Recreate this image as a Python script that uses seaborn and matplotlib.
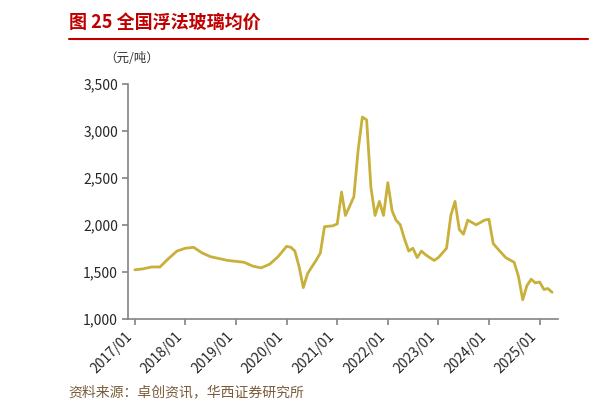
import matplotlib
matplotlib.use("Agg")
import matplotlib.pyplot as plt
import matplotlib.dates as mdates
import seaborn as sns
import pandas as pd

dates = ["2017-01","2017-03","2017-05","2017-07","2017-09","2017-11","2018-01","2018-03","2018-05","2018-07","2018-09","2018-11",
         "2019-01","2019-03","2019-05","2019-07","2019-09","2019-11","2020-01","2020-02","2020-03","2020-04","2020-05","2020-06","2020-07",
         "2020-08","2020-09","2020-10","2020-12","2021-01","2021-02","2021-03","2021-04","2021-05","2021-06","2021-07","2021-08","2021-09",
         "2021-10","2021-11","2021-12","2022-01","2022-02","2022-03","2022-04","2022-05","2022-06","2022-07","2022-08","2022-09","2022-10","2022-12",
         "2023-01","2023-03","2023-04","2023-05","2023-06","2023-07","2023-08","2023-10","2023-12","2024-01","2024-02","2024-03",
         "2024-05","2024-07","2024-08","2024-09","2024-10","2024-11","2024-12","2025-01","2025-02","2025-03","2025-04"]
prices = [1520,1530,1550,1550,1640,1720,1750,1760,1700,1660,1640,1620,
          1610,1600,1560,1540,1580,1660,1770,1760,1720,1550,1330,1480,1550,
          1620,1700,1980,1990,2010,2350,2100,2200,2300,2800,3150,3120,2400,
          2100,2250,2100,2450,2150,2050,2000,1850,1720,1750,1650,1720,1680,1620,
          1650,1750,2100,2250,1950,1900,2050,2000,2050,2060,1800,1750,
          1650,1600,1450,1200,1350,1420,1380,1390,1310,1320,1280]

df = pd.DataFrame({"date": pd.to_datetime(dates), "price": prices})

sns.set_theme(style="white")
plt.rcParams['font.family'] = ['Noto Sans CJK SC', 'DejaVu Sans']

fig = plt.figure(figsize=(5.97, 4.11), dpi=100)
ax = fig.add_axes([0.215, 0.225, 0.72, 0.57])
sns.lineplot(data=df, x="date", y="price", ax=ax, color="#C8B03A", linewidth=2.0)
ax.set_ylim(1000, 3500)
ax.set_yticks(range(1000, 3501, 500))
ax.set_yticklabels([f"{v:,}" for v in range(1000, 3501, 500)], fontsize=10)
ax.set_xlim(pd.Timestamp("2016-11-15"), pd.Timestamp("2025-05-15"))
ax.set_xticks(pd.to_datetime([f"{y}-01-01" for y in range(2017, 2026)]))
ax.xaxis.set_major_formatter(mdates.DateFormatter("%Y/%m"))
plt.setp(ax.get_xticklabels(), rotation=45, ha="right", fontsize=10)
ax.set_xlabel(""); ax.set_ylabel("")
for s in ["top", "right"]:
    ax.spines[s].set_visible(False)
for s in ["left", "bottom"]:
    ax.spines[s].set_color("#888888")
ax.tick_params(axis="x", bottom=True, length=4, color="#888888")
ax.tick_params(axis="y", left=True, length=4, color="#888888")

fig.text(0.175, 0.85, "（元/吨）", fontsize=9, color="#333333")
fig.text(0.115, 0.945, "图 25 全国浮法玻璃均价", fontsize=13, color="#C00000", va="center", fontweight="bold")
fig.add_artist(plt.Line2D([0.115, 0.985], [0.905, 0.905], color="#C00000", linewidth=1.5))
fig.text(0.115, 0.045, "资料来源：卓创资讯，华西证券研究所", fontsize=10, color="#7a5c3a", va="center")
fig.savefig("out.png", dpi=100)
